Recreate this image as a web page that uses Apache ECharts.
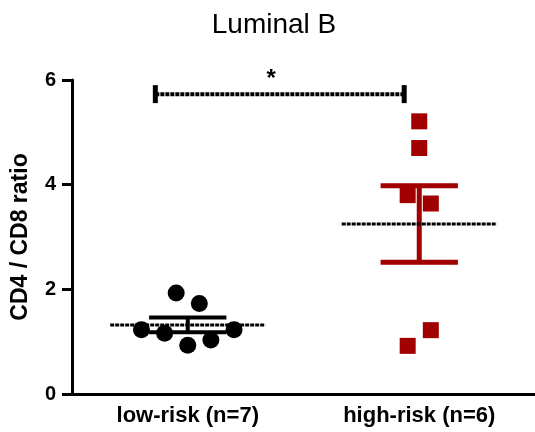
<!DOCTYPE html>
<html>
<head>
<meta charset="utf-8">
<script src="https://cdn.jsdelivr.net/npm/echarts@6/dist/echarts.min.js"></script>
<style>
html,body{margin:0;padding:0;background:#fff;}
#chart{width:535px;height:432px;}
</style>
</head>
<body>
<div id="chart"></div>
<script>
// ---- data ----
const categories = ['low-risk (n=7)', 'high-risk (n=6)'];
const lowRiskValues = [1.93, 1.73, 1.23, 1.16, 0.93, 1.03, 1.23];
const lowRiskJitter = [-0.05, 0.05, -0.2, -0.1, 0, 0.1, 0.2];
const highRiskValues = [5.21, 4.70, 3.80, 3.64, 1.22, 0.92];
const highRiskJitter = [0, 0, -0.05, 0.05, 0.05, -0.05];
const yMin = 0, yMax = 6, yInterval = 2;
const chartTitle = 'Luminal B';
const yTitle = 'CD4 / CD8 ratio';
const sigBracketX = [-0.14, 0.935];
const sigBracketY = 5.73;
const sigLabel = '*';
const sigLabelX = 0.36;

// ---- helpers ----
function mean(a){ return a.reduce((s,v)=>s+v,0)/a.length; }
function sem(a){
  const m = mean(a);
  const sd = Math.sqrt(a.reduce((s,v)=>s+(v-m)*(v-m),0)/(a.length-1));
  return sd/Math.sqrt(a.length);
}
const groups = [lowRiskValues, highRiskValues];
const statsData = groups.map((g,i)=>[i, mean(g), sem(g)]);

const RED = '#a00000';
const groupColors = ['#000000', RED];
const groupWidths = [4, 5];
const FONT = 'Liberation Sans, Arial, Helvetica, sans-serif';

const chart = echarts.init(document.getElementById('chart'), null, {renderer:'canvas'});

function renderStats(params, api){
  const i = params.dataIndex;
  const x = api.value(0), m = api.value(1), s = api.value(2);
  const meanHalf = 0.335, capHalf = 0.167;
  const top = api.coord([x, m + s]);
  const bot = api.coord([x, m - s]);
  const cl = api.coord([x - capHalf, m])[0];
  const cr = api.coord([x + capHalf, m])[0];
  const ml = api.coord([x - meanHalf, m]);
  const mr = api.coord([x + meanHalf, m]);
  const color = groupColors[i], w = groupWidths[i];
  return {type:'group', children:[
    {type:'line', shape:{x1:top[0], y1:top[1], x2:bot[0], y2:bot[1]}, style:{stroke:color, lineWidth:w}},
    {type:'line', shape:{x1:cl, y1:top[1], x2:cr, y2:top[1]}, style:{stroke:color, lineWidth:w}},
    {type:'line', shape:{x1:cl, y1:bot[1], x2:cr, y2:bot[1]}, style:{stroke:color, lineWidth:w}},
    {type:'line', shape:{x1:ml[0], y1:ml[1], x2:mr[0], y2:mr[1]}, style:{stroke:'#000', lineWidth:3, lineDash:[4,1]}}
  ]};
}

function renderBracket(params, api){
  const l = api.coord([api.value(0), api.value(2)]);
  const r = api.coord([api.value(1), api.value(2)]);
  const star = api.coord([api.value(3), api.value(2)]);
  return {type:'group', children:[
    {type:'line', shape:{x1:l[0], y1:l[1], x2:r[0], y2:r[1]}, style:{stroke:'#000', lineWidth:4, lineDash:[4,1]}},
    {type:'line', shape:{x1:l[0], y1:l[1]-9, x2:l[0], y2:l[1]+9}, style:{stroke:'#000', lineWidth:5}},
    {type:'line', shape:{x1:r[0], y1:r[1]-9, x2:r[0], y2:r[1]+9}, style:{stroke:'#000', lineWidth:5}},
    {type:'text', x:star[0], y:star[1]-3, style:{text:sigLabel, fontSize:24, fontWeight:'bold', fontFamily:FONT, fill:'#000', textAlign:'center', textVerticalAlign:'bottom'}}
  ]};
}

const option = {
  animation:false,
  backgroundColor:'#fff',
  graphic:[{
    type:'text', x:274, y:25,
    style:{text:chartTitle, fontSize:28, fontFamily:FONT, fill:'#000', textAlign:'center', textVerticalAlign:'middle'}
  }],
  grid:{left:72, right:-3, top:80, bottom:38, containLabel:false},
  xAxis:[
    {type:'category', data:categories, boundaryGap:true,
     axisLine:{lineStyle:{color:'#000', width:3}},
     axisTick:{alignWithLabel:true, length:6, lineStyle:{color:'#000', width:3}},
     axisLabel:{color:'#000', fontSize:22, fontWeight:'bold', fontFamily:FONT, margin:11},
     splitLine:{show:false}},
    {type:'value', min:-0.5, max:1.5, show:false}
  ],
  yAxis:{type:'value', min:yMin, max:yMax, interval:yInterval,
    name:yTitle, nameLocation:'middle', nameGap:40, nameRotate:90,
    nameTextStyle:{color:'#000', fontSize:23, fontWeight:'bold', fontFamily:FONT},
    axisLine:{show:true, onZero:false, lineStyle:{color:'#000', width:3}},
    axisTick:{show:true, length:10, lineStyle:{color:'#000', width:3}},
    axisLabel:{color:'#000', fontSize:20, fontWeight:'bold', fontFamily:FONT, margin:16},
    splitLine:{show:false}},
  series:[
    {type:'custom', xAxisIndex:1, renderItem:renderStats, data:statsData, z:2, clip:false},
    {type:'custom', xAxisIndex:1, renderItem:renderBracket,
     data:[[sigBracketX[0], sigBracketX[1], sigBracketY, sigLabelX]], z:2, clip:false},
    {type:'scatter', xAxisIndex:1, symbol:'circle', symbolSize:17, itemStyle:{color:'#000', opacity:1}, z:5,
     data:lowRiskValues.map((v,k)=>[0 + lowRiskJitter[k], v])},
    {type:'scatter', xAxisIndex:1, symbol:'rect', symbolSize:16, itemStyle:{color:RED, opacity:1}, z:5,
     data:highRiskValues.map((v,k)=>[1 + highRiskJitter[k], v])}
  ]
};
chart.setOption(option);
</script>
</body>
</html>
